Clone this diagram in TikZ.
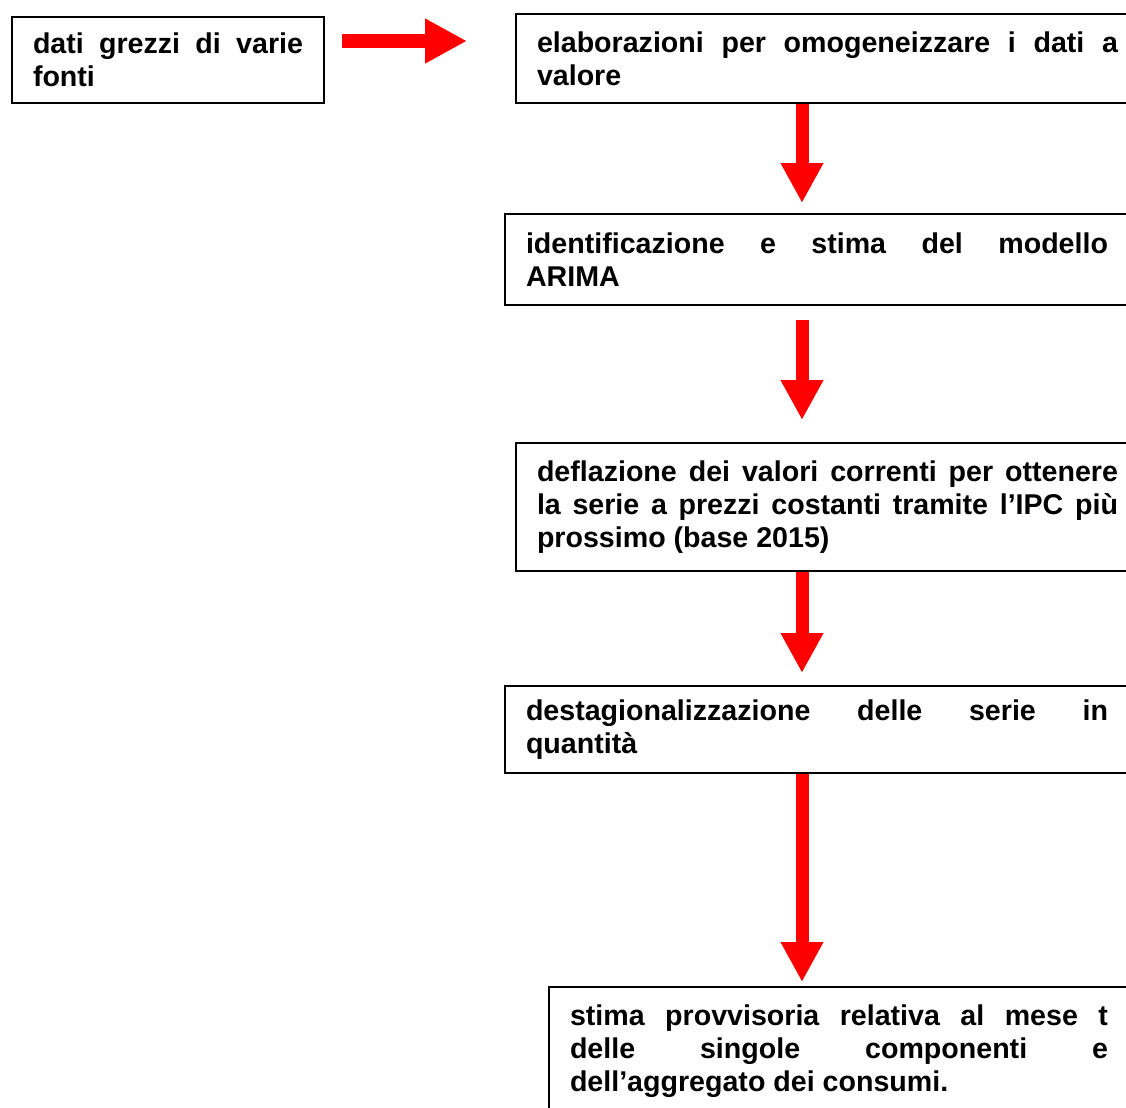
\documentclass[tikz,border=0pt]{standalone}
\usepackage{fontspec}
\setmainfont{Liberation Sans}
\usetikzlibrary{arrows.meta, positioning, calc}
\definecolor{FlowRed}{HTML}{FF0000}
\hyphenpenalty=10000
\begin{document}
\begin{tikzpicture}[
                x=0.5pt, y=-0.5pt,
                box/.style={draw=black, line width=1pt, anchor=north west, align=justify, inner xsep=10.5pt, inner ysep=0pt, font=\fontsize{14.3pt}{16.5pt}\selectfont\bfseries},
                arr/.style={-{Triangle[length=20pt, width=20pt]}, line width=6.5pt, FlowRed},
                harr/.style={-{Triangle[length=21pt, width=21pt]}, line width=7pt, FlowRed}
            ]
                \path[use as bounding box, clip] (0,0) rectangle (1126,1108);
                \coordinate (axis) at (802,0);
                \node[box, text width=135pt, minimum height=43pt] (raw) at (11,16) {dati grezzi di varie\linebreak fonti};
                \node[box, text width=290.5pt, minimum height=44.5pt] (elab) at (515,13) {elaborazioni per omogeneizzare i dati a\linebreak valore};
                \node[box, text width=291pt, minimum height=45.5pt] (ident) at (504,213) {identificazione e stima del modello\linebreak ARIMA};
                \node[box, text width=290.5pt, minimum height=64pt] (defl) at (515,442) {deflazione dei valori correnti per ottenere\linebreak la serie a prezzi costanti tramite l’IPC più\linebreak prossimo (base 2015)};
                \node[box, text width=291pt, minimum height=43.5pt] (destag) at (504,685) {destagionalizzazione delle serie in\linebreak quantità};
                \node[box, text width=269pt, minimum height=64pt] (prov) at (548,986) {stima provvisoria relativa al mese t\linebreak delle singole componenti e\linebreak dell’aggregato dei consumi.};
                \draw[harr, shorten <=8.5pt, shorten >=24pt] ([yshift=9.5pt]raw.east) -- ([yshift=9.5pt]raw.east -| elab.west);
                \draw[arr, shorten >=5pt] (elab.south -| axis) -- (ident.north -| axis);
                \draw[arr, shorten <=7pt, shorten >=11pt] (ident.south -| axis) -- (defl.north -| axis);
                \draw[arr, shorten >=6pt] (defl.south -| axis) -- (destag.north -| axis);
                \draw[arr, shorten >=2pt] (destag.south -| axis) -- (prov.north -| axis);
            \end{tikzpicture}
\end{document}
